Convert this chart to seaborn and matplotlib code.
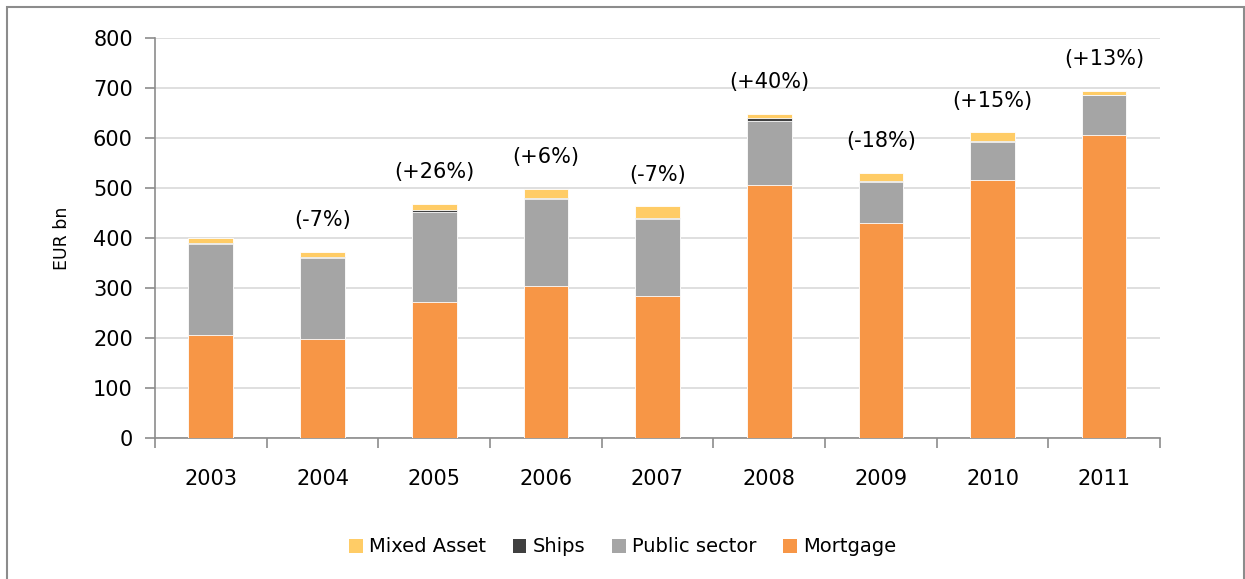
import numpy as np
import pandas as pd
import matplotlib
matplotlib.use("Agg")
import matplotlib.pyplot as plt
from matplotlib.patches import Patch, Rectangle
import seaborn as sns

# values (EUR bn)
years = ["2003", "2004", "2005", "2006", "2007", "2008", "2009", "2010", "2011"]
mortgage = [206, 198, 273, 305, 285, 507, 430, 517, 607]
public_sector = [182, 162, 180, 173, 153, 127, 83, 76, 79]
ships = [2, 2, 3, 3, 2, 6, 2, 2, 1]
mixed_asset = [10, 11, 13, 17, 24, 9, 16, 17, 8]
growth_labels = ["", "(-7%)", "(+26%)", "(+6%)", "(-7%)", "(+40%)", "(-18%)", "(+15%)", "(+13%)"]

colors = {"Mixed Asset": "#FFCC66", "Ships": "#404040",
          "Public sector": "#A5A5A5", "Mortgage": "#F79646"}

df = pd.DataFrame({"year": years, "Mortgage": mortgage, "Public sector": public_sector,
                   "Ships": ships, "Mixed Asset": mixed_asset})
# cumulative heights so each layer can be drawn from the top down
df["c_mort"] = df["Mortgage"]
df["c_pub"] = df["c_mort"] + df["Public sector"]
df["c_ships"] = df["c_pub"] + df["Ships"]
df["c_mixed"] = df["c_ships"] + df["Mixed Asset"]

sns.set_style("white")
plt.rcParams["font.family"] = ["DejaVu Sans"]
plt.rcParams["text.color"] = "black"
plt.rcParams["axes.labelcolor"] = "black"
plt.rcParams["xtick.labelcolor"] = "black"
plt.rcParams["ytick.labelcolor"] = "black"

fig = plt.figure(figsize=(12.45, 5.79), dpi=100)
ax = fig.add_axes([155 / 1245, 1 - 438 / 579, (1160 - 155) / 1245, 400 / 579])

for col, name in [("c_mixed", "Mixed Asset"), ("c_ships", "Ships"),
                  ("c_pub", "Public sector"), ("c_mort", "Mortgage")]:
    sns.barplot(data=df, x="year", y=col, color=colors[name], width=0.4,
                edgecolor="white", linewidth=0.6, saturation=1, ax=ax, zorder=3)

# growth annotations above bars
for i, lab in enumerate(growth_labels):
    if lab:
        ax.text(i, df["c_mixed"][i] + 63, lab, ha="center", va="center", fontsize=15, color="black")

ax.set_ylim(0, 800)
ax.set_xlim(-0.5, 8.5)
ax.set_yticks(np.arange(0, 801, 100))
ax.yaxis.grid(True, color="#D9D9D9", linewidth=1.2, zorder=0)
ax.set_axisbelow(True)
ax.set_xlabel("")
ax.set_ylabel("EUR bn", fontsize=12.5, labelpad=16)

for s in ["top", "right"]:
    ax.spines[s].set_visible(False)
for s in ["left", "bottom"]:
    ax.spines[s].set_color("#8C8C8C")
    ax.spines[s].set_linewidth(1.2)

ax.tick_params(axis="y", left=True, length=7, color="#8C8C8C", width=1.2, labelsize=15, pad=9)
ax.tick_params(axis="x", which="major", bottom=True, length=0, labelsize=15, pad=22)
ax.set_xticks(np.arange(-0.5, 9, 1), minor=True)
ax.tick_params(axis="x", which="minor", bottom=True, length=7, color="#8C8C8C", width=1.2)

handles = [Patch(facecolor=colors[n], edgecolor="none", label=n)
           for n in ["Mixed Asset", "Ships", "Public sector", "Mortgage"]]
fig.legend(handles=handles, loc="center", bbox_to_anchor=(0.5, 1 - 547 / 579), ncol=4,
           frameon=False, fontsize=14, handlelength=0.7, handleheight=0.7,
           handletextpad=0.3, columnspacing=1.4)

# outer frame around the chart area
fig.patches.append(Rectangle((7 / 1245, -0.02), 1237 / 1245, 1.02 - 7 / 579,
                             transform=fig.transFigure, fill=False,
                             edgecolor="#8C8C8C", linewidth=1.5))

fig.savefig("out.png", dpi=100)
